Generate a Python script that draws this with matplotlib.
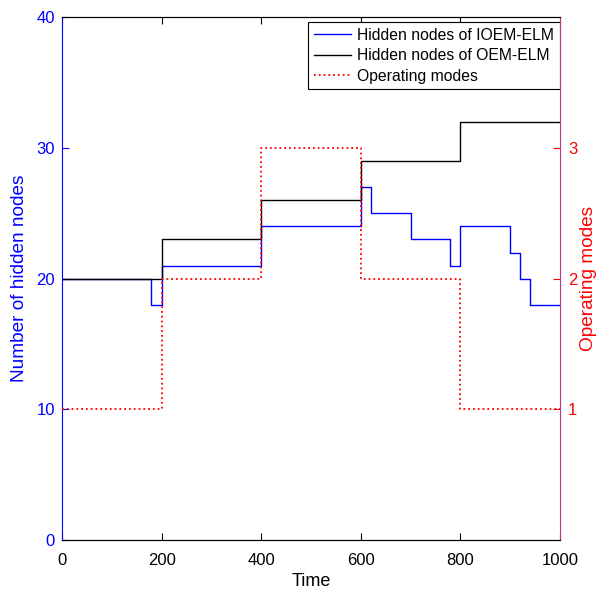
import matplotlib.pyplot as plt

plt.rcParams['font.family'] = ['Liberation Sans', 'DejaVu Sans']

# step change points (time) and values held until the next point
ioem_t = [0, 178, 200, 400, 600, 620, 700, 780, 800, 900, 920, 940, 1000]
ioem_n = [20, 18, 21, 24, 27, 25, 23, 21, 24, 22, 20, 18, 18]

oem_t = [0, 200, 400, 600, 800, 1000]
oem_n = [20, 23, 26, 29, 32, 32]

mode_t = [0, 200, 400, 600, 800, 1000]
mode_v = [1, 2, 3, 2, 1, 1]

fig, ax = plt.subplots(figsize=(6.02, 5.91), dpi=100)
fig.subplots_adjust(left=0.103, right=0.930, top=0.971, bottom=0.086)

l1, = ax.step(ioem_t, ioem_n, where='post', color='blue', lw=1.0, label='Hidden nodes of IOEM-ELM')
l2, = ax.step(oem_t, oem_n, where='post', color='black', lw=1.0, label='Hidden nodes of OEM-ELM')
ax.set_xlim(0, 1000)
ax.set_ylim(0, 40)
ax.set_xticks([0, 200, 400, 600, 800, 1000])
ax.set_yticks([0, 10, 20, 30, 40])
ax.set_xlabel('Time', fontsize=13, labelpad=4)
ax.set_ylabel('Number of hidden nodes', fontsize=13.7, color='blue', labelpad=6)
ax.tick_params(axis='x', direction='in', top=True, labelsize=12, length=5, colors='black', pad=9)
ax.tick_params(axis='y', direction='in', labelsize=12, length=5, colors='blue', pad=5)
ax.spines['left'].set_color('blue')
ax.spines['top'].set_color('#333333')

ax2 = ax.twinx()
l3, = ax2.step(mode_t, mode_v, where='post', color='red', ls=':', lw=1.3, label='Operating modes')
ax2.set_ylim(0, 4)
ax2.set_yticks([1, 2, 3])
ax2.set_ylabel('Operating modes', fontsize=13.7, color='red', labelpad=2)
ax2.tick_params(axis='y', direction='in', labelsize=12, length=5, colors='red', pad=6)
ax2.spines['right'].set_color('#bf3a86')
ax2.spines['left'].set_visible(False)
ax.spines['right'].set_visible(False)

leg = ax.legend(handles=[l1, l2, l3], loc='upper right', bbox_to_anchor=(1.0, 0.99),
                fontsize=11.3, fancybox=False, edgecolor='black', framealpha=1,
                borderaxespad=0, handlelength=2.4, handletextpad=0.4,
                labelspacing=0.35, borderpad=0.35)
leg.get_frame().set_linewidth(0.8)

fig.savefig('out.png', dpi=100)
